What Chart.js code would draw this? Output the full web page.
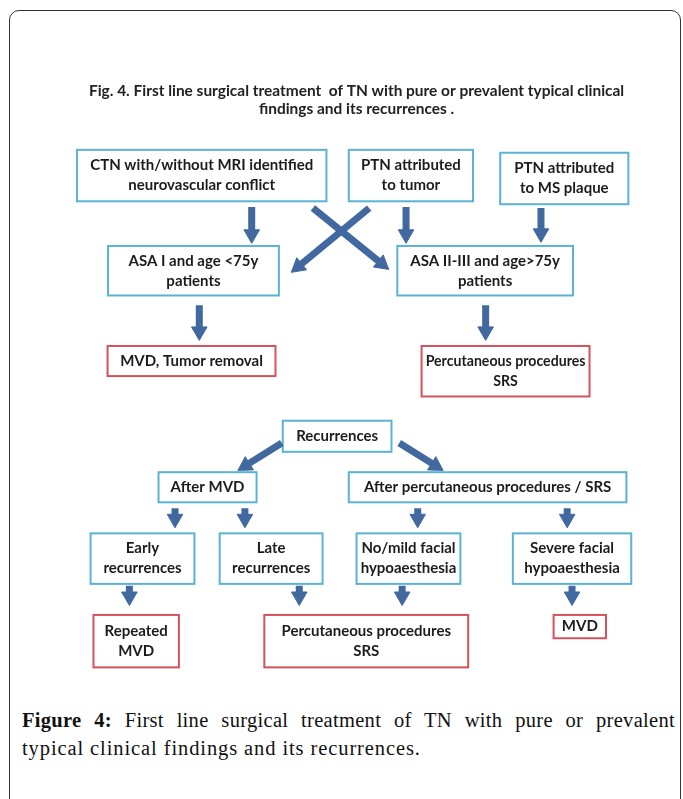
<!DOCTYPE html>
<html>
<head>
<meta charset="utf-8">
<script src="https://cdn.jsdelivr.net/npm/chart.js@4/dist/chart.umd.min.js"></script>
<style>
  html, body { margin: 0; padding: 0; background: #fff; }
  body { width: 683px; height: 799px; position: relative; overflow: hidden; }
  #frame {
    position: absolute; left: 9px; top: 10px; width: 672px; height: 830px;
    border: 1px solid #333; border-radius: 10px; box-sizing: border-box;
  }
  #wrap { position: absolute; left: 0; top: 0; width: 683px; height: 690px; }
  .cap {
    position: absolute; left: 22px; width: 653px;
    font-family: "Liberation Serif", "DejaVu Serif", serif; font-size: 20.5px;
    letter-spacing: 0.9px; line-height: 28px; color: #111; white-space: nowrap;
  }
  #cap1 { top: 706px; text-align: justify; text-align-last: justify; white-space: normal; letter-spacing: 0.3px; }
  #cap2 { top: 734px; }
  .cap b { font-weight: bold; }
</style>
</head>
<body>
<div id="frame"></div>
<div id="wrap"><canvas id="flow" width="683" height="690"></canvas></div>
<div class="cap" id="cap1"><b>Figure 4:</b> First line surgical treatment of TN with pure or prevalent</div>
<div class="cap" id="cap2">typical clinical findings and its recurrences.</div>

<script>
// titulo do diagrama
const titleLines = [
  'Fig. 4. First line surgical treatment  of TN with pure or prevalent typical clinical',
  'findings and its recurrences .'
]

// caixas: texto, centro (x,y), largura, altura, tipo
const nodeText = [
  ['CTN with/without MRI identified', 'neurovascular conflict'],
  ['PTN attributed', 'to tumor'],
  ['PTN attributed', 'to MS plaque'],
  ['ASA I and age <75y', 'patients'],
  ['ASA II-III and age>75y', 'patients'],
  ['MVD, Tumor removal'],
  ['Percutaneous procedures', 'SRS'],
  ['Recurrences'],
  ['After MVD'],
  ['After percutaneous procedures / SRS'],
  ['Early', 'recurrences'],
  ['Late', 'recurrences'],
  ['No/mild facial', 'hypoaesthesia'],
  ['Severe facial', 'hypoaesthesia'],
  ['Repeated', 'MVD'],
  ['Percutaneous procedures', 'SRS'],
  ['MVD']
]
const nodeX = [197.5, 413, 571, 189, 489.5, 187, 510.5, 337, 203.5, 492, 136.5, 269, 410.5, 579, 130, 367, 587]
const nodeY = [170.5, 170.5, 173.5, 268.5, 268.5, 361.5, 372, 439, 491.5, 491.5, 565, 565, 565, 565, 650, 650, 635]
const nodeW = [257, 128, 132, 176, 181, 173, 173, 112, 101, 286, 107, 106, 107, 122, 88, 210, 54]
const nodeH = [53, 53, 53, 51, 51, 31, 52, 32, 31, 31, 52, 52, 52, 52, 54, 54, 24]
const nodeKind = ['q', 'q', 'q', 'q', 'q', 'r', 'r', 'q', 'q', 'q', 'q', 'q', 'q', 'q', 'r', 'r', 'r']

// setas: inicio e ponta
const arrowFrom = [
  [249, 203], [408, 203], [547, 204], [312, 204], [370, 204],
  [195, 304], [490, 304],
  [280, 446], [401, 446],
  [170, 513], [242, 513], [420, 513], [574, 513],
  [123, 593], [298, 593], [404, 593], [579, 593]
]
const arrowTo = [
  [249, 240], [408, 240], [547, 239], [390, 267], [290, 270],
  [195, 340], [490, 340],
  [235, 474], [446, 474],
  [170, 533], [242, 533], [420, 533], [574, 533],
  [123, 613], [298, 613], [404, 613], [579, 613]
]

const blue = '#4169a0'
const headR = 9

const datasets = arrowFrom.map(function (p, i) {
  const q = arrowTo[i]
  const dx = q[0] - p[0], dy = q[1] - p[1]
  const len = Math.sqrt(dx * dx + dy * dy)
  // centro do triangulo fica headR antes da ponta
  const cx = q[0] - dx / len * headR
  const cy = q[1] - dy / len * headR
  const rot = Math.atan2(dx, -dy) * 180 / Math.PI
  return {
    type: 'line',
    data: [{ x: p[0], y: p[1] }, { x: cx, y: cy }],
    borderColor: blue,
    backgroundColor: blue,
    borderWidth: 7,
    borderCapStyle: 'butt',
    pointStyle: 'triangle',
    pointRadius: [0, headR],
    pointRotation: [0, rot],
    pointBorderWidth: 1,
    pointBorderColor: blue,
    pointBackgroundColor: blue,
    clip: false
  }
})

const FONT = 'Lato, "Open Sans", sans-serif'

const boxesPlugin = {
  id: 'boxes',
  beforeDatasetsDraw(chart) {
    const c = chart.ctx
    const xs = chart.scales.x, ys = chart.scales.y
    c.save()
    c.fillStyle = '#222'
    c.textAlign = 'center'
    c.textBaseline = 'middle'
    // ajusta o tamanho do titulo a largura do original
    c.font = 'bold 13px ' + FONT
    const w0 = c.measureText(titleLines[0]).width
    const fs = 13 * (xs.getPixelForValue(633) - xs.getPixelForValue(81)) / w0
    c.font = 'bold ' + fs.toFixed(2) + 'px ' + FONT
    c.fillText(titleLines[0], xs.getPixelForValue(357), ys.getPixelForValue(83))
    c.fillText(titleLines[1], xs.getPixelForValue(357), ys.getPixelForValue(102))

    nodeText.forEach(function (lines, i) {
      const l = xs.getPixelForValue(nodeX[i] - nodeW[i] / 2)
      const r = xs.getPixelForValue(nodeX[i] + nodeW[i] / 2)
      const t = ys.getPixelForValue(nodeY[i] - nodeH[i] / 2)
      const b = ys.getPixelForValue(nodeY[i] + nodeH[i] / 2)
      c.fillStyle = '#fff'
      c.fillRect(l, t, r - l, b - t)
      c.lineWidth = 2
      c.strokeStyle = nodeKind[i] === 'r' ? '#d5525c' : '#5ab3d3'
      c.strokeRect(l, t, r - l, b - t)
      c.fillStyle = '#1c1c1c'
      // texto a 15px, reduzido se nao couber na caixa
      let size = 15
      c.font = 'bold 15px ' + FONT
      const widest = Math.max.apply(null, lines.map(function (s) { return c.measureText(s).width }))
      const room = (r - l) - 8
      if (widest > room) size = 15 * room / widest
      c.font = 'bold ' + size.toFixed(2) + 'px ' + FONT
      const cx = (l + r) / 2, cy = (t + b) / 2
      const lh = 20
      lines.forEach(function (s, k) {
        c.fillText(s, cx, cy + (k - (lines.length - 1) / 2) * lh)
      })
    })
    c.restore()
  }
}

new Chart(document.querySelector('#flow'), {
  type: 'line',
  data: { datasets: datasets },
  options: {
    responsive: false,
    animation: false,
    layout: { padding: 0 },
    plugins: { legend: { display: false }, tooltip: { enabled: false } },
    scales: {
      x: { type: 'linear', min: 0, max: 683, display: false },
      y: { type: 'linear', min: 0, max: 690, reverse: true, display: false }
    }
  },
  plugins: [boxesPlugin]
})
</script>
</body>
</html>
